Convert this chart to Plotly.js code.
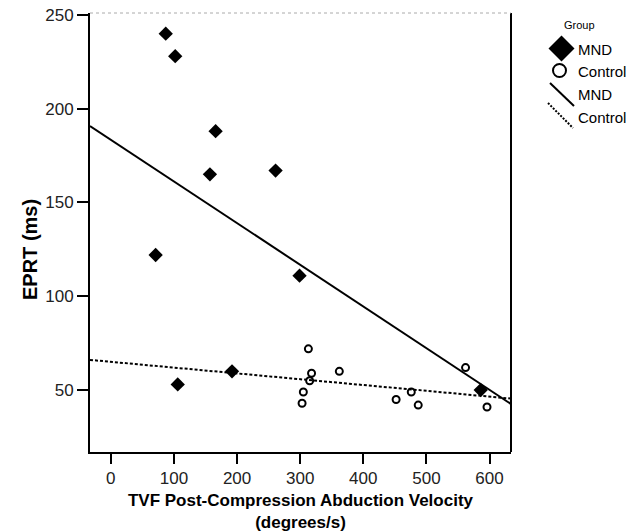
<!DOCTYPE html>
<html>
<head>
<meta charset="utf-8">
<script src="https://cdn.plot.ly/plotly-3.0.1.min.js"></script>
<style>html,body{margin:0;padding:0;background:#fff;}#chart{width:639px;height:532px;}</style>
</head>
<body>
<div id="chart"></div>
<script>
// ---- data ----
const mndX = [87, 102, 166, 157, 261, 71, 299, 192, 106, 586];
const mndY = [240, 228, 188, 165, 167, 122, 111, 60, 53, 50];
const ctlX = [313, 318, 315, 305, 303, 362, 452, 476, 487, 562, 596];
const ctlY = [72, 59, 55, 49, 43, 60, 45, 49, 42, 62, 41];
const xTicks = [0, 100, 200, 300, 400, 500, 600];
const yTicks = [50, 100, 150, 200, 250];
const groupNames = ["MND", "Control"];

const xRange = [-33, 634];
const yRange = [17, 251];

function fit(xs, ys) {
  const n = xs.length;
  const mx = xs.reduce((a, b) => a + b, 0) / n;
  const my = ys.reduce((a, b) => a + b, 0) / n;
  let sxy = 0, sxx = 0;
  for (let i = 0; i < n; i++) { sxy += (xs[i] - mx) * (ys[i] - my); sxx += (xs[i] - mx) ** 2; }
  const b = sxy / sxx, a = my - b * mx;
  return { x: xRange.slice(), y: xRange.map(v => a + b * v) };
}
const fm = fit(mndX, mndY), fc = fit(ctlX, ctlY);

const M = { l: 90, r: 128, t: 13, b: 80 };
const W = 639, H = 532;
const pw = W - M.l - M.r, ph = H - M.t - M.b;
const px = v => (v - M.l) / pw;
const py = v => (H - M.b - v) / ph;

const FONT = "Arial, 'Liberation Sans', Helvetica, sans-serif";

const traces = [
  { x: fm.x, y: fm.y, mode: "lines", line: { color: "#000", width: 2 }, hoverinfo: "skip", showlegend: false },
  { x: fc.x, y: fc.y, mode: "lines", line: { color: "#000", width: 2, dash: "3px,2px" }, hoverinfo: "skip", showlegend: false },
  { x: mndX, y: mndY, mode: "markers", name: groupNames[0], marker: { symbol: "diamond", size: 11, color: "#000" }, showlegend: false },
  { x: ctlX, y: ctlY, mode: "markers", name: groupNames[1], marker: { symbol: "circle-open", size: 7, color: "#000", line: { width: 2, color: "#000" } }, showlegend: false }
];

// legend glyph geometry (pixels)
const dc = [561.5, 48.5], dr = 13;
const shapes = [
  { type: "line", xref: "paper", yref: "paper", x0: 1, x1: 1, y0: 0, y1: 1, line: { color: "#000", width: 2 } },
  { type: "line", xref: "paper", yref: "paper", x0: 0, x1: 1, y0: 1, y1: 1, line: { color: "#aaa", width: 1, dash: "dot" } },
  { type: "path", xref: "paper", yref: "paper", fillcolor: "#000", line: { width: 0 },
    path: `M ${px(dc[0])} ${py(dc[1]-dr)} L ${px(dc[0]+dr)} ${py(dc[1])} L ${px(dc[0])} ${py(dc[1]+dr)} L ${px(dc[0]-dr)} ${py(dc[1])} Z` },
  { type: "circle", xref: "paper", yref: "paper", x0: px(553), x1: px(566), y0: py(64), y1: py(77), line: { color: "#000", width: 2 } },
  { type: "line", xref: "paper", yref: "paper", x0: px(550), y0: py(83), x1: px(574), y1: py(106), line: { color: "#000", width: 2 } },
  { type: "line", xref: "paper", yref: "paper", x0: px(548), y0: py(103), x1: px(573), y1: py(128), line: { color: "#000", width: 2, dash: "2px,1.5px" } }
];

const ann = (t, x, y, size, anchor) => ({ text: t, xref: "paper", yref: "paper", x: px(x), y: py(y), xanchor: anchor || "left", yanchor: "middle", showarrow: false, font: { size: size, color: "#000", family: FONT } });
const annotations = [
  ann("Group", 579, 25, 11, "center"),
  ann(groupNames[0], 576, 49, 15),
  ann(groupNames[1], 576, 71, 15),
  ann(groupNames[0], 576, 94, 15),
  ann(groupNames[1], 576, 117, 15),
  { text: "<b>EPRT (ms)</b>", xref: "paper", yref: "paper", x: px(30), y: py(250), xanchor: "center", yanchor: "middle",
    textangle: -90, showarrow: false, font: { size: 20, color: "#000", family: FONT } }
];

const layout = {
  width: W, height: H,
  margin: M,
  paper_bgcolor: "#fff", plot_bgcolor: "#fff",
  font: { family: FONT, color: "#000", size: 16 },
  showlegend: false,
  xaxis: {
    range: xRange, tickvals: xTicks, ticktext: xTicks.map(String),
    ticks: "outside", ticklen: 10, tickwidth: 2, tickcolor: "#000",
    showline: true, linewidth: 2, linecolor: "#000", showgrid: false, zeroline: false,
    tickfont: { size: 17, color: "#222", family: FONT },
    title: { text: "<b>TVF Post-Compression Abduction Velocity<br>(degrees/s)</b>", font: { size: 17, color: "#000", family: FONT }, standoff: 7 }
  },
  yaxis: {
    range: yRange, tickvals: yTicks, ticktext: yTicks.map(String),
    ticks: "outside", ticklen: 11, tickwidth: 2, tickcolor: "#000",
    showline: true, linewidth: 2, linecolor: "#000", showgrid: false, zeroline: false,
    tickfont: { size: 17, color: "#222", family: FONT }
  },
  shapes: shapes,
  annotations: annotations
};

Plotly.newPlot("chart", traces, layout, { displayModeBar: false, staticPlot: true });
</script>
</body>
</html>
